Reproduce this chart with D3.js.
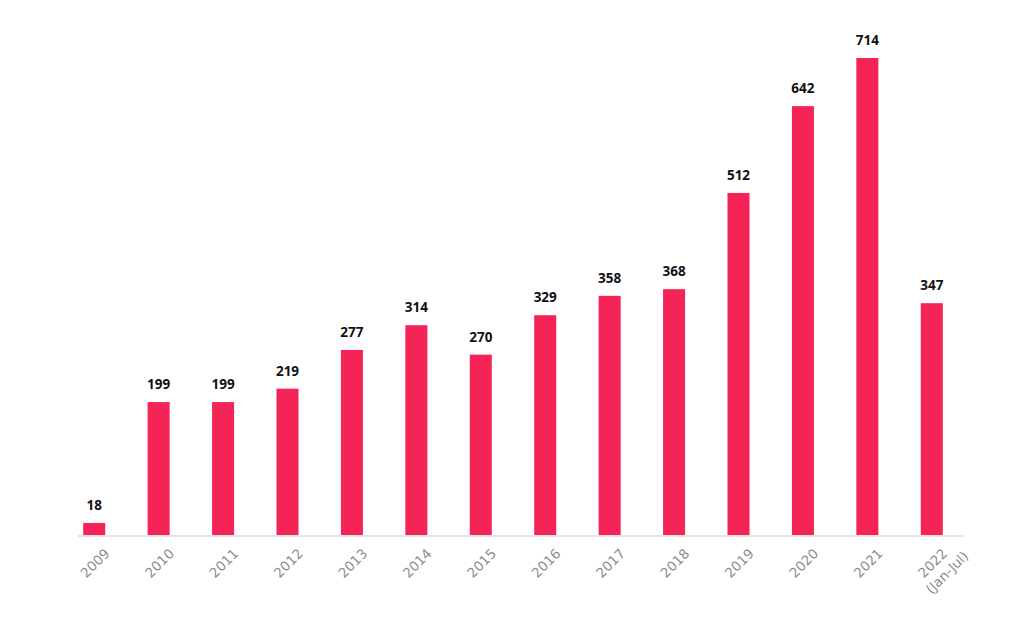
<!DOCTYPE html>
<html>
<head>
<meta charset="utf-8">
<script src="https://cdn.jsdelivr.net/npm/d3@7"></script>
<style>
  body { margin: 0; background: #fff; }
  svg { display: block; }
</style>
</head>
<body>
<script>
var width = 1024;
var height = 629;

var years = ['2009', '2010', '2011', '2012', '2013', '2014', '2015', '2016',
    '2017', '2018', '2019', '2020', '2021', '2022'];
var values = [18, 199, 199, 219, 277, 314, 270, 329, 358, 368, 512, 642, 714, 347];
var subLabels = { '2022': '(Jan-Jul)' };

var baseY = 535;
var topY = 58;

var svg = d3.select('body').append('svg')
    .attr('width', width)
    .attr('height', height);

var x = d3.scaleBand()
    .domain(years)
    .range([62, 964])
    .paddingInner(0.658)
    .paddingOuter(0.329);

var y = d3.scaleLinear()
    .domain([0, d3.max(values)])
    .range([baseY, topY]);

// baseline
svg.append('line')
    .attr('x1', 78)
    .attr('x2', 963)
    .attr('y1', baseY + 1)
    .attr('y2', baseY + 1)
    .style('stroke', '#e4e4e4')
    .style('stroke-width', 2);

svg.selectAll('rect.bar')
    .data(values)
  .enter().append('rect')
    .attr('class', 'bar')
    .attr('x', function (d, i) { return x(years[i]); })
    .attr('y', function (d) { return y(d); })
    .attr('width', x.bandwidth())
    .attr('height', function (d) { return baseY - y(d); })
    .style('fill', '#f52457');

svg.selectAll('text.val')
    .data(values)
  .enter().append('text')
    .attr('class', 'val')
    .attr('x', function (d, i) { return x(years[i]) + x.bandwidth() / 2; })
    .attr('y', function (d) { return y(d) - 13; })
    .attr('text-anchor', 'middle')
    .style('font-family', '"Open Sans", sans-serif')
    .style('font-weight', 700)
    .style('font-size', '13.5px')
    .style('fill', '#111')
    .text(function (d) { return d; });

// x labels, rotated -45
function labelX(d) { return x(d) + x.bandwidth() / 2 + 13; }
var labelY = baseY + 16;

svg.selectAll('text.xl')
    .data(years)
  .enter().append('text')
    .attr('class', 'xl')
    .attr('x', labelX)
    .attr('y', labelY)
    .attr('transform', function (d) { return 'rotate(-45,' + labelX(d) + ',' + labelY + ')'; })
    .attr('text-anchor', 'end')
    .attr('dy', '0.35em')
    .style('font-family', '"DejaVu Sans", sans-serif')
    .style('font-size', '13.5px')
    .style('fill', '#8e8e8e')
    .text(function (d) { return d; });

svg.selectAll('text.xsub')
    .data(years.filter(function (d) { return subLabels[d]; }))
  .enter().append('text')
    .attr('class', 'xsub')
    .attr('x', function (d) { return labelX(d) + 13; })
    .attr('y', labelY)
    .attr('transform', function (d) { return 'rotate(-45,' + labelX(d) + ',' + labelY + ')'; })
    .attr('text-anchor', 'end')
    .attr('dy', '1.6em')
    .style('font-family', '"DejaVu Sans", sans-serif')
    .style('font-size', '13.5px')
    .style('fill', '#8e8e8e')
    .text(function (d) { return subLabels[d]; });
</script>
</body>
</html>
